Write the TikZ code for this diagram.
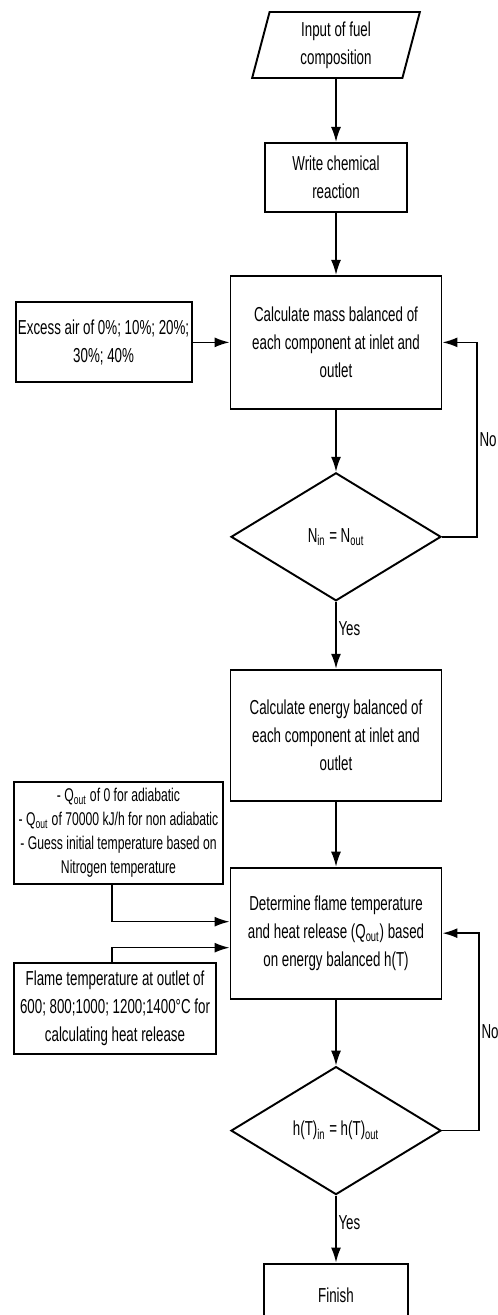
\documentclass[tikz,border=0pt]{standalone}
\usepackage{fontspec}
\newfontfamily\chartfont{Liberation Sans}[FakeStretch=0.66]
\usetikzlibrary{arrows.meta, shapes.geometric, positioning}
\tikzset{
	every node/.style={
		font=\chartfont\fontsize{11.5}{16}\selectfont
	},
	process/.style={
		shape=rectangle,
		draw,
		line width=1.1pt,
		align=center,
		inner sep=1pt
	},
	big process/.style={
		process,
		minimum width=4.22cm,
		minimum height=2.62cm
	},
	data/.style={
		shape=trapezium,
		trapezium left angle=79,
		trapezium right angle=101,
		trapezium stretches=true,
		draw,
		line width=1.1pt,
		align=center,
		inner sep=1pt,
		minimum width=3.36cm,
		minimum height=1.32cm
	},
	decision/.style={
		shape=diamond,
		draw,
		line width=1.1pt,
		inner sep=0pt,
		minimum width=4.2cm,
		minimum height=2.56cm
	},
	small text/.style={
		font=\chartfont\fontsize{10.5}{13.6}\selectfont
	},
	answer/.style={right, inner sep=1pt},
	myarrow/.style={-{Latex[length=3mm,width=2mm]}, line width=0.9pt},
}

\begin{document}
\begin{tikzpicture}
		\useasboundingbox (0,0) rectangle (9.96,-26.3);
		
		\node[data] (input) at (6.72,-0.9) {Input of fuel\\composition};
		\node[process, minimum width=2.84cm, minimum height=1.38cm] (write) [below = 1.26cm of input] {Write chemical\\reaction};
		\node[big process, minimum height=2.66cm] (mass) [below = 1.24cm of write] {Calculate mass balanced of\\each component at inlet and\\outlet};
		\node[process, minimum width=3.52cm, minimum height=1.6cm] (excess) [left = 0.74cm of mass] {Excess air of 0\%; 10\%; 20\%;\\30\%; 40\%};
		\node[decision] (check1) [below = 1.24cm of mass] {N\textsubscript{in} = N\textsubscript{out}};
		\node[big process] (energy) [below = 1.34cm of check1] {Calculate energy balanced of\\each component at inlet and\\outlet};
		\node[big process] (flame) [below = 1.3cm of energy] {Determine flame temperature\\and heat release (Q\textsubscript{out}) based\\on energy balanced h(T)};
		\node[decision] (check2) [below = 1.32cm of flame] {h(T)\textsubscript{in} = h(T)\textsubscript{out}};
		\node[process, minimum width=2.88cm, minimum height=1.26cm] (finish) [below = 1.34cm of check2] {Finish};
		\node[process, small text, minimum width=4.18cm, minimum height=2.04cm] (heat) at (2.37,-16.66) {- Q\textsubscript{out} of 0 for adiabatic\\- Q\textsubscript{out} of 70000 kJ/h for non adiabatic\\- Guess initial temperature based on\\Nitrogen temperature};
		\node[process, minimum width=4.04cm, minimum height=1.82cm] (outlet) at (2.30,-20.17) {Flame temperature at outlet of\\600; 800;1000; 1200;1400°C for\\calculating heat release};
		
		\coordinate (back1) at ([xshift=0.7cm]check1.east);
		\coordinate (back2) at ([xshift=0.74cm]check2.east);
		
		\path[draw,myarrow]
		(input) edge (write)
		(write) edge (mass)
		(excess) edge (mass)
		(mass) edge (check1)
		(check1) edge node[answer, pos=0.4] {Yes} (energy)
		(energy) edge (flame)
		(flame) edge (check2)
		(check2) edge node[answer, pos=0.4] {Yes} (finish);
		
		\draw[myarrow] (check1.east) -- (back1) |- node[answer, pos=0.25] {No} (mass.east);
		\draw[myarrow] (check2.east) -- (back2) |- node[answer, pos=0.25] {No} (flame.east);
		\draw[myarrow] ([xshift=-0.13cm]heat.south) |- ([yshift=0.23cm]flame.west);
		\draw[myarrow] ([xshift=-0.06cm]outlet.north) |- ([yshift=-0.29cm]flame.west);
		
\end{tikzpicture}
\end{document}
